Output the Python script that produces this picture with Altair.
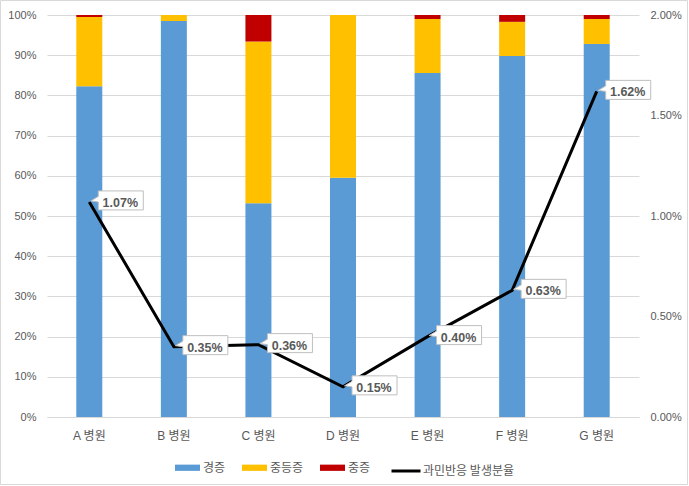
import altair as alt
import pandas as pd

hospitals = ["A 병원", "B 병원", "C 병원", "D 병원", "E 병원", "F 병원", "G 병원"]
series = ["경증", "중등증", "중증"]
mild = [0.823, 0.985, 0.532, 0.595, 0.856, 0.898, 0.928]
moderate = [0.172, 0.015, 0.402, 0.405, 0.134, 0.085, 0.062]
severe = [0.005, 0.0, 0.066, 0.0, 0.010, 0.017, 0.010]
rate = [0.0107, 0.0035, 0.0036, 0.0015, 0.0040, 0.0063, 0.0162]
line_name = "과민반응 발생분율"
left_ticks = [0, 0.1, 0.2, 0.3, 0.4, 0.5, 0.6, 0.7, 0.8, 0.9, 1.0]
right_ticks = [0, 0.005, 0.01, 0.015, 0.02]

colors = ["#5B9BD5", "#FFC000", "#C00000"]
GRAY = "#595959"
GRID = "#D9D9D9"
FONT = "Liberation Sans, Noto Sans CJK KR"
KFONT = "Noto Sans CJK KR"

rows = []
for i, h in enumerate(hospitals):
    for k, (s, vals) in enumerate(zip(series, [mild, moderate, severe])):
        rows.append({"hospital": h, "series": s, "ord": k, "value": vals[i]})
bars_df = pd.DataFrame(rows)
line_df = pd.DataFrame({"hospital": hospitals, "rate": rate, "name": line_name})
border_df = pd.DataFrame({"a": [0]})

x_enc = alt.X(
    "hospital:N", sort=hospitals,
    scale=alt.Scale(paddingInner=0, paddingOuter=0),
    axis=alt.Axis(title=None, labelAngle=0, ticks=False, domainColor=GRID,
                  labelPadding=13, labelFontSize=12, labelColor=GRAY, labelFont=FONT),
)
x_plain = alt.X("hospital:N", sort=hospitals)

bars = alt.Chart(bars_df).mark_bar(size=26).encode(
    x=x_enc,
    y=alt.Y("value:Q", stack="zero", scale=alt.Scale(domain=[0, 1]),
            axis=alt.Axis(title=None, values=left_ticks, format=".0%", grid=True,
                          gridColor=GRID, ticks=False, domain=False, labelPadding=11,
                          labelColor=GRAY, labelFontSize=11, labelFont=FONT)),
    color=alt.Color("series:N", scale=alt.Scale(domain=series, range=colors),
                    legend=alt.Legend(title=None, orient="none", legendX=128, legendY=440,
                                      direction="horizontal", symbolType="M-1,-0.25H1V0.25H-1Z",
                                      symbolSize=625, symbolStrokeWidth=0, labelOffset=3,
                                      columnPadding=16, labelFontSize=12, labelColor=GRAY,
                                      labelFont=KFONT, padding=0)),
    order=alt.Order("ord:Q", sort="ascending"),
)

y_right_scale = alt.Scale(domain=[0, 0.02])
line = alt.Chart(line_df).mark_line(strokeWidth=3).encode(
    x=x_plain,
    y=alt.Y("rate:Q", scale=y_right_scale,
            axis=alt.Axis(orient="right", title=None, values=right_ticks, format=".2%",
                          grid=False, ticks=False, domain=False, labelPadding=11,
                          labelColor=GRAY, labelFontSize=11, labelFont=FONT)),
    stroke=alt.Stroke("name:N", scale=alt.Scale(domain=[line_name], range=["black"]),
                      legend=alt.Legend(title=None, orient="none", legendX=343, legendY=440,
                                        symbolType="stroke", symbolSize=841,
                                        symbolStrokeWidth=3, labelOffset=1,
                                        labelFontSize=12, labelColor=GRAY,
                                        labelFont=KFONT, padding=0)),
)

box_path = "M0.9,-1.1H5.4V0.8H0.9V0.0L0.15,-0.1L0.9,-0.55Z"
boxes = alt.Chart(line_df).mark_point(shape=box_path, size=400, filled=True, fill="white",
                                      stroke="#BFBFBF", strokeWidth=1, opacity=1).encode(
    x=x_plain,
    y=alt.Y("rate:Q", scale=y_right_scale),
)

labels = alt.Chart(line_df).mark_text(dx=31, dy=1, align="center", baseline="middle",
                                      fontWeight="bold", fontSize=12.5, color=GRAY,
                                      font=FONT).encode(
    x=x_plain,
    y=alt.Y("rate:Q", scale=y_right_scale),
    text=alt.Text("rate:Q", format=".2%"),
)

border = alt.Chart(border_df).mark_rect(fill="transparent", stroke=GRID, strokeWidth=1).encode(
    x=alt.value(-46.5), x2=alt.value(640.5), y=alt.value(-14.5), y2=alt.value(469.5)
)

right = alt.layer(line, boxes, labels)

chart = alt.layer(border, bars, right).resolve_scale(y="independent").properties(
    width=592, height=402,
    padding={"left": 47, "top": 15, "right": 50, "bottom": 69},
    autosize=alt.AutoSizeParams(type="none"),
    background="white",
).configure_view(stroke=None)

chart.save("out.html", embed_options={"renderer": "svg", "actions": False})
